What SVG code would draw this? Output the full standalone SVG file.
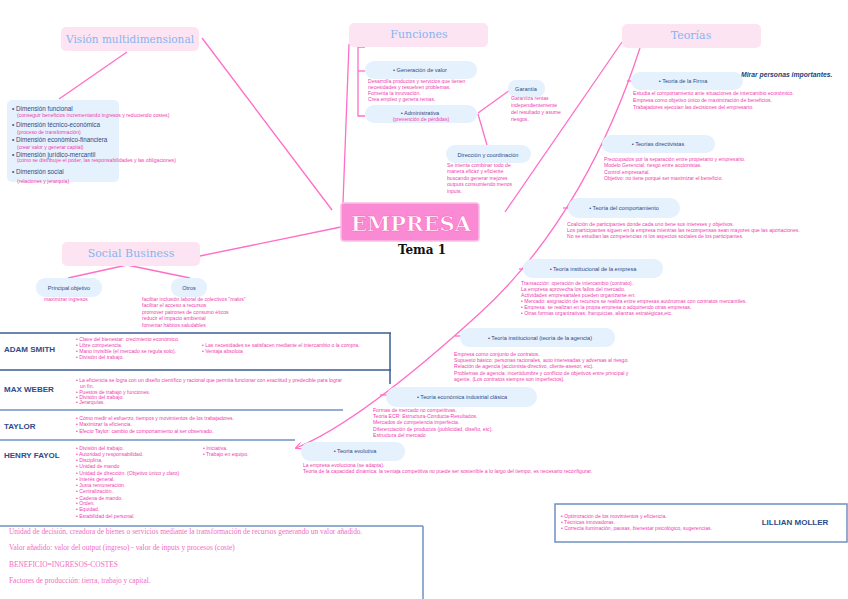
<svg xmlns="http://www.w3.org/2000/svg" width="848" height="599" viewBox="0 0 848 599">
<defs>
<marker id="arr" viewBox="0 0 10 10" refX="9" refY="5" markerWidth="7" markerHeight="7" orient="auto" markerUnits="userSpaceOnUse">
<path d="M0,0 L10,5 L0,10" fill="none" stroke="#ff6ec7" stroke-width="1.6"/>
</marker>
<style>
.ln{stroke:#ff6ec7;stroke-width:1.3;fill:none}
.pbox{fill:#fde4f2}
.bbox{fill:#e5f1fd}
.ttl{font-family:"DejaVu Serif",serif;fill:#86b4f0;font-size:11px}
.nd{font-family:"Liberation Sans",sans-serif;fill:#2f4b86;font-size:5.6px}
.ds{font-family:"Liberation Sans",sans-serif;fill:#f03cae;font-size:5.1px}
.dim{font-family:"Liberation Sans",sans-serif;fill:#2f4b86;font-size:6.3px}
.rl{font-family:"Liberation Sans",sans-serif;fill:#2f4b86;font-size:8px;font-weight:bold}
.tb{stroke:#3b5c96;stroke-width:1.5;fill:none}
.tb2{stroke:#6f90c2;stroke-width:1.5;fill:none}
.sf{font-family:"Liberation Serif",serif;fill:#f26cc4;font-size:7.4px}
</style>
</defs>
<rect width="848" height="599" fill="#ffffff"/>

<g id="connectors">
<line class="ln" x1="202" y1="38" x2="332" y2="210"/>
<line class="ln" x1="127" y1="52" x2="59" y2="99"/>
<line class="ln" x1="349" y1="44" x2="343" y2="203"/>
<polyline class="ln" points="365,47 358,47 358,116 365,116"/>
<line class="ln" x1="358" y1="71" x2="365" y2="71"/>
<line class="ln" x1="478" y1="113" x2="510" y2="90"/>
<line class="ln" x1="478" y1="114" x2="487" y2="145"/>
<line class="ln" x1="622" y1="42" x2="505" y2="212"/>
<path class="ln" d="M640,48 C610,140 560,240 480,313 S340,430 296,448" marker-end="url(#arr)"/>
<line class="ln" x1="627" y1="81" x2="633" y2="81"/>
<line class="ln" x1="601" y1="145" x2="606" y2="145"/>
<line class="ln" x1="563" y1="208" x2="569" y2="208"/>
<line class="ln" x1="519" y1="269" x2="525" y2="269"/>
<line class="ln" x1="455" y1="336" x2="461" y2="336"/>
<line class="ln" x1="380" y1="395" x2="387" y2="395"/>
<line class="ln" x1="200" y1="256" x2="341" y2="227"/>
<line class="ln" x1="127" y1="265" x2="68" y2="278"/>
<line class="ln" x1="127" y1="265" x2="190" y2="278"/>
</g>

<g id="empresa">
<rect x="341" y="203" width="138" height="38" rx="3" fill="#fa8ad4" stroke="#f9c0e6" stroke-width="1.5"/>
<text x="411" y="231" text-anchor="middle" font-family="DejaVu Serif,serif" font-weight="bold" font-size="21" fill="#ffffff" stroke="#ff5fc0" stroke-width="0.6" textLength="120" lengthAdjust="spacingAndGlyphs">EMPRESA</text>
<text x="422" y="254" text-anchor="middle" font-family="DejaVu Serif,serif" font-weight="bold" font-size="12" fill="#111">Tema 1</text>
</g>

<g id="vision">
<rect class="pbox" x="61" y="27" width="138" height="24" rx="5"/>
<text class="ttl" x="130" y="43" text-anchor="middle" textLength="128" lengthAdjust="spacingAndGlyphs">Visión multidimensional</text>
</g>

<g id="dimensiones">
<rect class="bbox" x="7" y="100" width="112" height="82" rx="5"/>
<text class="dim" x="12" y="111">• Dimensión funcional</text>
<text class="ds" x="17" y="117" font-size="4.6">(conseguir beneficios incrementando ingresos y reduciendo costes)</text>
<text class="dim" x="12" y="127">• Dimensión técnico-económica</text>
<text class="ds" x="17" y="134" font-size="4.6">(proceso de transformación)</text>
<text class="dim" x="12" y="141.5">• Dimensión económico-financiera</text>
<text class="ds" x="17" y="149" font-size="4.6">(crear valor y generar capital)</text>
<text class="dim" x="12" y="157">• Dimensión jurídico-mercantil</text>
<text class="ds" x="17" y="162" font-size="4.6">(como se distribuye el poder, las responsabilidades y las obligaciones)</text>
<text class="dim" x="12" y="174">• Dimensión social</text>
<text class="ds" x="17" y="183" font-size="4.6">(relaciones y jerarquía)</text>
</g>

<g id="funciones">
<rect class="pbox" x="349" y="23" width="139" height="24" rx="5"/>
<text class="ttl" x="419" y="38" text-anchor="middle">Funciones</text>
</g>

<g id="generacion">
<rect class="bbox" x="365" y="61" width="112" height="18" rx="9"/>
<text class="nd" x="420" y="72" text-anchor="middle">• Generación de valor</text>
<text class="ds" x="368" y="83">Desarrolla productos y servicios que tienen</text>
<text class="ds" x="368" y="89">necesidades y resuelven problemas.</text>
<text class="ds" x="368" y="95">Fomenta la innovación.</text>
<text class="ds" x="368" y="101">Crea empleo y genera rentas.</text>
</g>

<g id="administrativa">
<rect class="bbox" x="365" y="105" width="112" height="18" rx="9"/>
<text class="nd" x="420" y="115" text-anchor="middle">•  Administrativa</text>
<text class="ds" x="421" y="121" text-anchor="middle">(prevención de pérdidas)</text>
</g>

<g id="garantia">
<rect class="bbox" x="508" y="80" width="37" height="17" rx="8"/>
<text class="nd" x="526" y="91" text-anchor="middle">Garantía</text>
<text class="ds" x="511" y="100">Garantiza rentas</text>
<text class="ds" x="511" y="107">independientemente</text>
<text class="ds" x="511" y="114">del resultado y asume</text>
<text class="ds" x="511" y="121">riesgos.</text>
</g>

<g id="direccion">
<rect class="bbox" x="446" y="145" width="85" height="18" rx="9"/>
<text class="nd" x="488" y="157" text-anchor="middle">Dirección y coordinación</text>
<text class="ds" x="447" y="167">Se intenta combinar todo de</text>
<text class="ds" x="447" y="173">manera eficaz y eficiente</text>
<text class="ds" x="447" y="180">buscando generar mejores</text>
<text class="ds" x="447" y="186">outputs consumiendo menos</text>
<text class="ds" x="447" y="193">inputs.</text>
</g>

<g id="teorias">
<rect class="pbox" x="622" y="24" width="139" height="24" rx="5"/>
<text class="ttl" x="691" y="39" text-anchor="middle">Teorías</text>
</g>

<g id="nota">
<text x="741" y="77" font-family="Liberation Sans,sans-serif" font-style="italic" font-weight="bold" font-size="6.8" fill="#243f7c">Mirar personas importantes.</text>
</g>

<g id="firma">
<rect class="bbox" x="631" y="72" width="112" height="18" rx="9"/>
<text class="nd" x="683" y="83" text-anchor="middle">• Teoría de la Firma</text>
<text class="ds" x="633" y="95">Estudia el comportamiento ante situaciones de intercambio económico.</text>
<text class="ds" x="633" y="102">Empresa como objetivo único de maximización de beneficios.</text>
<text class="ds" x="633" y="109">Trabajadores ejecutan las decisiones del empresario.</text>
</g>

<g id="directivistas">
<rect class="bbox" x="602" y="135" width="113" height="18" rx="9"/>
<text class="nd" x="658" y="146" text-anchor="middle">• Teorías directivistas</text>
<text class="ds" x="604" y="161">Preocupados por la separación entre propietario y empresario.</text>
<text class="ds" x="604" y="167">Modelo Gerencial: riesgo entre accionistas.</text>
<text class="ds" x="604" y="174">Control empresarial.</text>
<text class="ds" x="604" y="180">Objetivo: no tiene porqué ser maximizar el beneficio.</text>
</g>

<g id="comportamiento">
<rect class="bbox" x="568" y="198" width="112" height="20" rx="10"/>
<text class="nd" x="624" y="210" text-anchor="middle">• Teoría del comportamiento</text>
<text class="ds" x="567" y="226">Coalición de participantes donde cada uno tiene sus intereses y objetivos.</text>
<text class="ds" x="567" y="232">Los participantes siguen en la empresa mientras las recompensas sean mayores que las aportaciones.</text>
<text class="ds" x="567" y="238">No se estudian las competencias ni los aspectos sociales de los participantes.</text>
</g>

<g id="institucional">
<rect class="bbox" x="523" y="259" width="140" height="19" rx="9"/>
<text class="nd" x="593" y="271" text-anchor="middle">• Teoría institucional de la empresa</text>
<text class="ds" x="521" y="285">Transacción: operación de intercambio (contrato).</text>
<text class="ds" x="521" y="291">La empresa aprovecha los fallos del mercado.</text>
<text class="ds" x="521" y="297">Actividades empresariales pueden organizarse en:</text>
<text class="ds" x="521" y="303">• Mercado: asignación de recursos se realiza entre empresas autónomas con contratos mercantiles.</text>
<text class="ds" x="521" y="309">• Empresa: se realizan en la propia empresa o adquiriendo otras empresas.</text>
<text class="ds" x="521" y="315">• Otras formas organizativas: franquicias, alianzas estratégicas,etc.</text>
</g>

<g id="agencia">
<rect class="bbox" x="460" y="328" width="155" height="19" rx="9"/>
<text class="nd" x="540" y="340" text-anchor="middle">• Teoría institucional (teoría de la agencia)</text>
<text class="ds" x="454" y="356">Empresa como conjunto de contratos.</text>
<text class="ds" x="454" y="362">Supuesto básico: personas racionales, auto interesadas y adversas al riesgo.</text>
<text class="ds" x="454" y="368">Relación de agencia (accionista-directivo, cliente-asesor, etc).</text>
<text class="ds" x="454" y="375">Problemas de agencia: incertidumbre y conflicto de objetivos entre principal y</text>
<text class="ds" x="454" y="381">agente. (Los contratos siempre son imperfectos).</text>
</g>

<g id="industrial">
<rect class="bbox" x="386" y="387" width="151" height="20" rx="10"/>
<text class="nd" x="462" y="399" text-anchor="middle">• Teoría económica industrial clásica</text>
<text class="ds" x="373" y="412">Formas de mercado no competitivas.</text>
<text class="ds" x="373" y="418">Teoría ECR: Estructura-Conducta-Resultados.</text>
<text class="ds" x="373" y="424">Mercados de competencia imperfecta.</text>
<text class="ds" x="373" y="431">Diferenciación de productos (publicidad, diseño, etc).</text>
<text class="ds" x="373" y="437">Estructura del mercado</text>
</g>

<g id="evolutiva">
<rect class="bbox" x="301" y="442" width="104" height="19" rx="9"/>
<text class="nd" x="355" y="453" text-anchor="middle">• Teoría evolutiva</text>
<text class="ds" x="303" y="467" font-size="4.8">La empresa evoluciona (se adapta).</text>
<text class="ds" x="303" y="473" font-size="4.8">Teoría de la capacidad dinámica: la ventaja competitiva no puede ser sostenible a lo largo del tiempo, es necesario reconfigurar.</text>
</g>

<g id="social">
<rect class="pbox" x="62" y="242" width="138" height="24" rx="5"/>
<text class="ttl" x="131" y="257" text-anchor="middle">Social Business</text>
</g>

<g id="principal">
<rect class="bbox" x="36" y="278" width="66" height="19" rx="9"/>
<text class="nd" x="69" y="290" text-anchor="middle">Principal objetivo</text>
<text class="ds" x="44" y="301">maximizar ingresos</text>
</g>

<g id="otros">
<rect class="bbox" x="171" y="278" width="36" height="19" rx="9"/>
<text class="nd" x="189" y="290" text-anchor="middle">Otros</text>
<text class="ds" x="142" y="301">facilitar inclusión laboral de colectivos "malos"</text>
<text class="ds" x="142" y="307">facilitar el acceso a recursos</text>
<text class="ds" x="142" y="314">promover patrones de consumo éticos</text>
<text class="ds" x="142" y="320">reducir el impacto ambiental</text>
<text class="ds" x="142" y="327">fomentar hábitos saludables</text>
</g>

<g id="tabla">
<line class="tb" x1="0" y1="333" x2="391" y2="333"/>
<line class="tb" x1="390" y1="333" x2="390" y2="384"/>
<line class="tb" x1="0" y1="370" x2="391" y2="370"/>
<line class="tb2" x1="0" y1="410" x2="343" y2="410"/>
<line class="tb2" x1="0" y1="440" x2="295" y2="440"/>
<line class="tb2" x1="0" y1="526" x2="423" y2="526"/>
<line class="tb2" x1="423" y1="526" x2="423" y2="599"/>
</g>

<g id="adam-smith">
<text class="rl" x="4" y="352">ADAM SMITH</text>
<text class="ds" x="76" y="341">• Clave del bienestar: crecimiento económico.</text>
<text class="ds" x="76" y="347">• Libre competencia.</text>
<text class="ds" x="76" y="353">• Mano invisible (el mercado se regula solo).</text>
<text class="ds" x="76" y="359">• División del trabajo.</text>
<text class="ds" x="202" y="347">• Las necesidades se satisfacen mediante el intercambio o la compra.</text>
<text class="ds" x="202" y="353">• Ventaja absoluta</text>
</g>

<g id="max-weber">
<text class="rl" x="4" y="392">MAX WEBER</text>
<text class="ds" x="76" y="382">• La eficiencia se logra con un diseño científico y racional que permita funcionar con exactitud y predecible para lograr</text>
<text class="ds" x="80" y="388">un fin.</text>
<text class="ds" x="76" y="394">• Puestos de trabajo y funciones.</text>
<text class="ds" x="76" y="399">• División del trabajo.</text>
<text class="ds" x="76" y="404">• Jerarquías.</text>
</g>

<g id="taylor">
<text class="rl" x="4" y="429">TAYLOR</text>
<text class="ds" x="76" y="420">• Cómo medir el esfuerzo, tiempos y movimientos de los trabajadores.</text>
<text class="ds" x="76" y="426">• Maximizar la eficiencia.</text>
<text class="ds" x="76" y="433">• Efecto Taylor: cambio de comportamiento al ser observado.</text>
</g>

<g id="henry-fayol">
<text class="rl" x="4" y="458">HENRY FAYOL</text>
<text class="ds" x="76" y="450">• División del trabajo.</text>
<text class="ds" x="76" y="456">• Autoridad y responsabilidad.</text>
<text class="ds" x="76" y="462">• Disciplina.</text>
<text class="ds" x="76" y="468">• Unidad de mando</text>
<text class="ds" x="76" y="475">• Unidad de dirección. (Objetivo único y claro)</text>
<text class="ds" x="76" y="481">• Interés general.</text>
<text class="ds" x="76" y="487">• Justa remuneración.</text>
<text class="ds" x="76" y="493">• Centralización.</text>
<text class="ds" x="76" y="500">• Cadena de mando.</text>
<text class="ds" x="76" y="505">• Orden.</text>
<text class="ds" x="76" y="511">• Equidad.</text>
<text class="ds" x="76" y="518">• Estabilidad del personal.</text>
<text class="ds" x="203" y="450">• Iniciativa.</text>
<text class="ds" x="203" y="456">• Trabajo en equipo.</text>
</g>

<g id="definiciones">
<text class="sf" x="9" y="534">Unidad de decisión, creadora de bienes o servicios mediante la transformación de recursos generando un valor añadido.</text>
<text class="sf" x="9" y="550">Valor añadido: valor del output (ingreso) - valor de inputs y procesos (coste)</text>
<text class="sf" x="9" y="567">BENEFICIO=INGRESOS-COSTES</text>
<text class="sf" x="9" y="583">Factores de producción: tierra, trabajo y capital.</text>
</g>

<g id="lillian-moller">
<rect class="tb2" x="555" y="504" width="292" height="38"/>
<text class="ds" x="561" y="518">• Optimización de los movimientos y eficiencia.</text>
<text class="ds" x="561" y="524">• Técnicas innovadoras.</text>
<text class="ds" x="561" y="530">• Correcta iluminación, pausas, bienestar psicológico, sugerencias.</text>
<text class="rl" x="795" y="525" text-anchor="middle">LILLIAN MOLLER</text>
</g>
</svg>
